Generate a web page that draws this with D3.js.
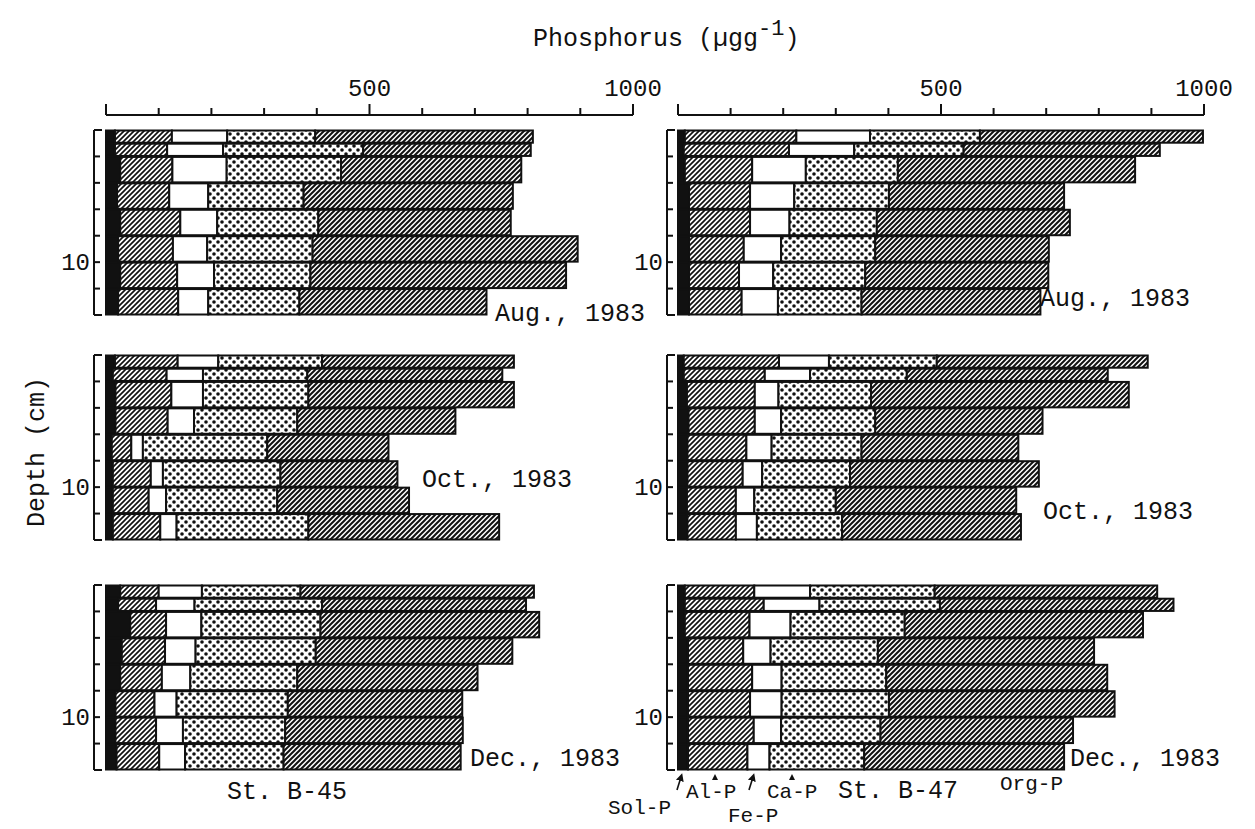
<!DOCTYPE html>
<html>
<head>
<meta charset="utf-8">
<script src="https://cdn.jsdelivr.net/npm/d3@7"></script>
<style>
  body { margin: 0; background: #fff; }
  text { font-family: "Liberation Mono", "DejaVu Sans Mono", monospace; fill: #111; }
</style>
</head>
<body>
<div id="chart"></div>
<script>
// fractions, left to right in each bar
var fractions = ["Sol-P", "Al-P", "Fe-P", "Ca-P", "Org-P"];
// depth layers (cm)
var layerTop = [0, 1, 2, 4, 6, 8, 10, 12];
var layerBottom = [1, 2, 4, 6, 8, 10, 12, 14];
var months = ["Aug., 1983", "Oct., 1983", "Dec., 1983"];
var stations = ["St. B-45", "St. B-47"];
var xTicks = [0, 100, 200, 300, 400, 500, 600, 700, 800, 900, 1000];
var xTickLabels = [500, 1000];
var depthTicks = [0, 2, 4, 6, 8, 10, 12, 14];
var depthTickLabels = [10];

// ug/g per layer: [Sol-P, Al-P, Fe-P, Ca-P, Org-P]
var b45Aug = [
    [17, 108, 105, 167, 413],
    [17, 99, 106, 266, 318],
    [27, 99, 103, 217, 342],
    [21, 99, 74, 181, 397],
    [27, 114, 70, 192, 365],
    [23, 104, 65, 200, 503],
    [27, 108, 70, 183, 485],
    [23, 114, 57, 173, 355]
];
var b45Oct = [
    [17, 119, 77, 197, 364],
    [13, 102, 69, 198, 370],
    [18, 106, 60, 200, 390],
    [18, 99, 50, 196, 300],
    [11, 37, 22, 236, 230],
    [13, 72, 23, 223, 222],
    [13, 68, 33, 211, 250],
    [13, 90, 31, 250, 362]
];
var b45Dec = [
    [27, 73, 82, 187, 443],
    [23, 72, 73, 242, 387],
    [46, 68, 67, 226, 415],
    [30, 82, 58, 228, 373],
    [27, 79, 54, 203, 342],
    [18, 74, 42, 211, 331],
    [18, 77, 51, 194, 337],
    [20, 81, 49, 187, 336]
];
var b47Aug = [
    [13, 212, 140, 209, 424],
    [11, 200, 124, 208, 373],
    [13, 128, 102, 175, 451],
    [21, 116, 84, 180, 333],
    [21, 116, 75, 166, 367],
    [21, 104, 71, 179, 330],
    [21, 95, 65, 175, 348],
    [21, 100, 69, 159, 340]
];
var b47Oct = [
    [11, 181, 95, 205, 401],
    [11, 154, 86, 184, 382],
    [17, 129, 45, 176, 490],
    [20, 126, 50, 179, 318],
    [18, 112, 48, 171, 298],
    [18, 105, 37, 167, 359],
    [17, 93, 35, 155, 343],
    [18, 92, 40, 162, 340]
];
var b47Dec = [
    [13, 132, 106, 237, 423],
    [13, 150, 106, 229, 444],
    [13, 123, 78, 217, 453],
    [19, 105, 52, 204, 411],
    [19, 122, 56, 199, 420],
    [19, 118, 60, 204, 429],
    [19, 125, 52, 189, 366],
    [19, 113, 42, 180, 380]
];

var width = 1255, height = 829;
var svg = d3.select("#chart").append("svg")
    .attr("width", width)
    .attr("height", height);

// fill patterns
var defs = svg.append("defs");
function hatch(id, size, sw) {
    var p = defs.append("pattern")
        .attr("id", id)
        .attr("patternUnits", "userSpaceOnUse")
        .attr("width", size).attr("height", size);
    p.append("rect").attr("width", size).attr("height", size).attr("fill", "#fff");
    p.append("path")
        .attr("d", "M" + (-size / 4) + "," + (size / 4) + " l" + (size / 2) + "," + (-size / 2) +
            " M0," + size + " l" + size + "," + (-size) +
            " M" + (size * 0.75) + "," + (size * 1.25) + " l" + (size / 2) + "," + (-size / 2))
        .attr("stroke", "#111")
        .attr("stroke-width", sw);
}
hatch("hatch-al", 5, 1.7);
hatch("hatch-org", 5, 2);
var dots = defs.append("pattern")
    .attr("id", "dots")
    .attr("patternUnits", "userSpaceOnUse")
    .attr("width", 8).attr("height", 8);
dots.append("rect").attr("width", 8).attr("height", 8).attr("fill", "#fff");
dots.append("circle").attr("cx", 2).attr("cy", 2).attr("r", 1.8).attr("fill", "#111");
dots.append("circle").attr("cx", 6).attr("cy", 6).attr("r", 1.8).attr("fill", "#111");

var fills = {
    "Sol-P": "#111",
    "Al-P": "url(#hatch-al)",
    "Fe-P": "#fff",
    "Ca-P": "url(#dots)",
    "Org-P": "url(#hatch-org)"
};

var columns = [
    { x0: 106, x1: 633, bracket: 94, panels: [b45Aug, b45Oct, b45Dec] },
    { x0: 678, x1: 1204, bracket: 667, panels: [b47Aug, b47Oct, b47Dec] }
];
var panelTops = [130, 355, 585];
var panelHeight = 185;
var monthPos = [
    [[495, 321], [422, 487], [470, 766]],
    [[1040, 306], [1043, 519], [1070, 766]]
];

var stack = d3.stack().keys(fractions);

columns.forEach(function(col, ci) {
    var x = d3.scaleLinear().domain([0, 1000]).range([col.x0, col.x1]);

    // top axis
    var axisY = 115;
    var ax = svg.append("g").attr("class", "x axis");
    ax.append("line")
        .attr("x1", x(0)).attr("x2", x(1000))
        .attr("y1", axisY).attr("y2", axisY)
        .attr("stroke", "#111").attr("stroke-width", 2);
    ax.selectAll(".tick").data(xTicks).enter().append("line")
        .attr("x1", function(d) { return x(d); })
        .attr("x2", function(d) { return x(d); })
        .attr("y1", axisY)
        .attr("y2", function(d) { return d % 500 == 0 ? axisY - 11 : axisY - 7; })
        .attr("stroke", "#111").attr("stroke-width", 2);
    ax.selectAll(".lbl").data(xTickLabels).enter().append("text")
        .attr("x", function(d) { return x(d); })
        .attr("y", 96)
        .attr("text-anchor", "middle")
        .attr("font-size", 24)
        .text(function(d) { return d; });

    col.panels.forEach(function(rowsData, pi) {
        var top = panelTops[pi];
        var y = d3.scaleLinear().domain([0, 14]).range([top, top + panelHeight]);
        var g = svg.append("g").attr("class", "panel");

        var rows = rowsData.map(function(r, i) {
            var o = { top: layerTop[i], bottom: layerBottom[i] };
            fractions.forEach(function(f, k) { o[f] = r[k]; });
            return o;
        });
        var series = stack(rows);

        g.selectAll(".layer").data(series).enter().append("g")
            .attr("class", "layer")
            .attr("fill", function(s) { return fills[s.key]; })
            .selectAll("rect").data(function(s) { return s; }).enter().append("rect")
            .attr("x", function(d) { return x(d[0]); })
            .attr("y", function(d) { return y(d.data.top) + 0.5; })
            .attr("width", function(d) { return x(d[1]) - x(d[0]); })
            .attr("height", function(d) { return y(d.data.bottom) - y(d.data.top) - 1; })
            .attr("stroke", "#111")
            .attr("stroke-width", 2);

        // depth bracket
        var bx = col.bracket;
        g.append("line")
            .attr("x1", bx).attr("x2", bx)
            .attr("y1", y(0)).attr("y2", y(14))
            .attr("stroke", "#111").attr("stroke-width", 2);
        g.selectAll(".dtick").data(depthTicks).enter().append("line")
            .attr("x1", bx)
            .attr("x2", function(d) { return (d == 0 || d == 14) ? bx + 8 : bx + 6; })
            .attr("y1", function(d) { return y(d); })
            .attr("y2", function(d) { return y(d); })
            .attr("stroke", "#111").attr("stroke-width", 2);
        g.selectAll(".dlbl").data(depthTickLabels).enter().append("text")
            .attr("x", bx - 4)
            .attr("y", function(d) { return y(d) + 8; })
            .attr("text-anchor", "end")
            .attr("font-size", 24)
            .text(function(d) { return d; });

        g.append("text")
            .attr("x", monthPos[ci][pi][0])
            .attr("y", monthPos[ci][pi][1])
            .attr("font-size", 25)
            .text(months[pi]);
    });
});

// title
var title = svg.append("text")
    .attr("x", 533).attr("y", 46)
    .attr("font-size", 25);
title.append("tspan").text("Phosphorus (\u00b5gg");
title.append("tspan").attr("dy", -11).attr("font-size", 22).text("-1");
title.append("tspan").attr("dy", 11).text(")");

// y title
svg.append("text")
    .attr("transform", "translate(44,452) rotate(-90)")
    .attr("text-anchor", "middle")
    .attr("font-size", 25)
    .text("Depth (cm)");

// station labels
svg.append("text").attr("x", 227).attr("y", 799).attr("font-size", 25).text(stations[0]);
svg.append("text").attr("x", 838).attr("y", 798).attr("font-size", 25).text(stations[1]);

// fraction key under St. B-47
var key = [
    { t: "Sol-P", x: 608, y: 814 },
    { t: "Al-P", x: 686, y: 798 },
    { t: "Fe-P", x: 728, y: 822 },
    { t: "Ca-P", x: 767, y: 798 },
    { t: "Org-P", x: 1000, y: 790 }
];
svg.selectAll(".key").data(key).enter().append("text")
    .attr("x", function(d) { return d.x; })
    .attr("y", function(d) { return d.y; })
    .attr("font-size", 21)
    .text(function(d) { return d.t; });

defs.append("marker")
    .attr("id", "arrow")
    .attr("viewBox", "0 0 10 10")
    .attr("refX", 5).attr("refY", 5)
    .attr("markerWidth", 5).attr("markerHeight", 5)
    .attr("orient", "auto-start-reverse")
    .append("path").attr("d", "M0,0 L10,5 L0,10 z").attr("fill", "#111");

var arrows = [
    [677, 790, 681, 777],
    [749, 790, 753, 777]
];
svg.selectAll(".arr").data(arrows).enter().append("line")
    .attr("x1", function(d) { return d[0]; })
    .attr("y1", function(d) { return d[1]; })
    .attr("x2", function(d) { return d[2]; })
    .attr("y2", function(d) { return d[3]; })
    .attr("stroke", "#111").attr("stroke-width", 1.6)
    .attr("marker-end", "url(#arrow)");
var heads = [[715, 777], [792, 777]];
svg.selectAll(".head").data(heads).enter().append("path")
    .attr("d", function(d) { return "M" + (d[0] - 3) + "," + (d[1] + 3) + " L" + d[0] + "," + (d[1] - 3) + " L" + (d[0] + 3) + "," + (d[1] + 3) + " z"; })
    .attr("fill", "#111");
</script>
</body>
</html>
